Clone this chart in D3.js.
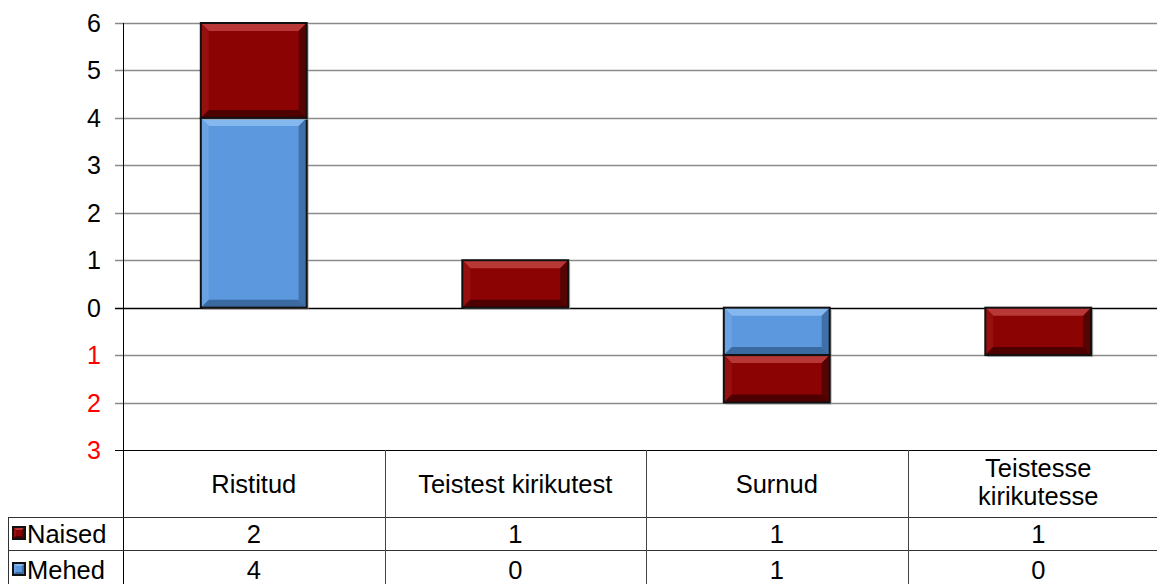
<!DOCTYPE html>
<html>
<head>
<meta charset="utf-8">
<script src="https://cdn.jsdelivr.net/npm/d3@7"></script>
<style>
  body { margin: 0; background: #fff; }
  text { font-family: "Liberation Sans", Arial, sans-serif; }
</style>
</head>
<body>
<script>
// chart data
var categories = ["Ristitud", "Teistest kirikutest", "Surnud", "Teistesse kirikutesse"];
var headerLines = [["Ristitud"], ["Teistest kirikutest"], ["Surnud"], ["Teistesse", "kirikutesse"]];
var seriesNames = ["Mehed", "Naised"];
// signed values: incoming up, outgoing down
var mehed = [4, 0, -1, 0];
var naised = [2, 1, -1, -1];
var yTicks = [-3, -2, -1, 0, 1, 2, 3, 4, 5, 6];

var w = 1157, h = 584;
var plotLeft = 123, plotTop = 23, plotBottom = 450;
var bandW = 261.5;
var fs = "25.5px";

var palette = {
  Mehed:  { fill: "#5b98de", light: "#86b8f0", side: "#6aa2e2", dark: "#3b6aa0", darkSide: "#3f70a8" },
  Naised: { fill: "#8b0303", light: "#b83838", side: "#961010", dark: "#4e0000", darkSide: "#560303" }
};

var svg = d3.select("body").append("svg").attr("width", w).attr("height", h);

var x = d3.scaleBand()
  .domain(categories)
  .range([plotLeft, plotLeft + bandW * 4])
  .paddingInner(0.595)
  .paddingOuter(0.2975);

var y = d3.scaleLinear().domain([-3, 6]).range([plotBottom, plotTop]);

// gridlines
svg.append("g").selectAll("line")
  .data(yTicks)
  .enter().append("line")
  .attr("x1", plotLeft - 8)
  .attr("x2", w)
  .attr("y1", function(d) { return Math.round(y(d)) + 0.5; })
  .attr("y2", function(d) { return Math.round(y(d)) + 0.5; })
  .attr("stroke", function(d) { return (d == 0 || d == -3) ? "#000" : "#8a8a8a"; })
  .attr("stroke-width", function(d) { return d == -3 ? 1.2 : 1.3; });

// y axis labels
svg.append("g").selectAll("text")
  .data(yTicks)
  .enter().append("text")
  .attr("x", 101)
  .attr("y", function(d) { return y(d) + 9; })
  .attr("text-anchor", "end")
  .attr("font-size", "25px")
  .attr("fill", function(d) { return d < 0 ? "#ff0000" : "#000"; })
  .text(function(d) { return Math.abs(d); });

// stacked bars
var rows = categories.map(function(c, i) { return { cat: c, Mehed: mehed[i], Naised: naised[i] }; });
var stack = d3.stack().keys(seriesNames).offset(d3.stackOffsetDiverging);
var layers = stack(rows);

function bevelRect(g, bx, by, bw, bh, pal, b, shadow) {
  if (shadow) {
    g.append("rect").attr("x", bx + 2).attr("y", by + 2).attr("width", bw).attr("height", bh)
      .attr("fill", "#9a9a9a").attr("opacity", 0.7);
  }
  g.append("rect").attr("x", bx).attr("y", by).attr("width", bw).attr("height", bh).attr("fill", pal.fill);
  var x0 = bx, x1 = bx + bw, y0 = by, y1 = by + bh;
  var polys = [
    [[x0, y0], [x1, y0], [x1 - b, y0 + b], [x0 + b, y0 + b], pal.light],
    [[x0, y0], [x0 + b, y0 + b], [x0 + b, y1 - b], [x0, y1], pal.side],
    [[x1, y0], [x1, y1], [x1 - b, y1 - b], [x1 - b, y0 + b], pal.darkSide],
    [[x0, y1], [x0 + b, y1 - b], [x1 - b, y1 - b], [x1, y1], pal.dark]
  ];
  polys.forEach(function(p) {
    g.append("polygon")
      .attr("points", p.slice(0, 4).map(function(q) { return q.join(","); }).join(" "))
      .attr("fill", p[4]);
  });
  g.append("rect").attr("x", bx).attr("y", by).attr("width", bw).attr("height", bh)
    .attr("fill", "none").attr("stroke", "#111").attr("stroke-width", 2);
}

var barsG = svg.append("g");
layers.forEach(function(layer) {
  layer.forEach(function(d) {
    if (d[1] - d[0] == 0) return;
    var y0 = y(d[1]), y1 = y(d[0]);
    bevelRect(barsG, x(d.data.cat), y0, x.bandwidth(), y1 - y0, palette[layer.key], 8, true);
  });
});

// y axis line
svg.append("line")
  .attr("x1", plotLeft + 0.5).attr("x2", plotLeft + 0.5)
  .attr("y1", plotTop).attr("y2", h)
  .attr("stroke", "#000");

// data table
var table = svg.append("g");
var colX = categories.map(function(c, i) { return plotLeft + bandW * i; });

table.append("line").attr("x1", 8).attr("x2", w).attr("y1", 517.5).attr("y2", 517.5).attr("stroke", "#333");
table.append("line").attr("x1", 8).attr("x2", w).attr("y1", 550.5).attr("y2", 550.5).attr("stroke", "#333");
table.append("line").attr("x1", 8.5).attr("x2", 8.5).attr("y1", 517).attr("y2", h).attr("stroke", "#333");

table.selectAll(".col").data(colX.slice(1)).enter().append("line")
  .attr("x1", function(d) { return Math.round(d) + 0.5; })
  .attr("x2", function(d) { return Math.round(d) + 0.5; })
  .attr("y1", plotBottom).attr("y2", h)
  .attr("stroke", "#444");

// header labels
headerLines.forEach(function(lines, i) {
  var cx = x(categories[i]) + x.bandwidth() / 2;
  var startY = lines.length == 1 ? 493 : 477;
  lines.forEach(function(l, j) {
    table.append("text")
      .attr("x", cx).attr("y", startY + j * 28)
      .attr("text-anchor", "middle")
      .attr("font-size", fs)
      .text(l);
  });
});

// series rows
var tableRows = [
  { name: "Naised", values: naised, ty: 543 },
  { name: "Mehed", values: mehed, ty: 579 }
];
tableRows.forEach(function(r) {
  bevelRect(table.append("g"), 13, r.ty - 16, 12, 12, palette[r.name], 3, false);
  table.append("text")
    .attr("x", 27).attr("y", r.ty)
    .attr("font-size", fs)
    .text(r.name);
  r.values.forEach(function(v, i) {
    table.append("text")
      .attr("x", x(categories[i]) + x.bandwidth() / 2)
      .attr("y", r.ty)
      .attr("text-anchor", "middle")
      .attr("font-size", fs)
      .text(Math.abs(v));
  });
});
</script>
</body>
</html>
